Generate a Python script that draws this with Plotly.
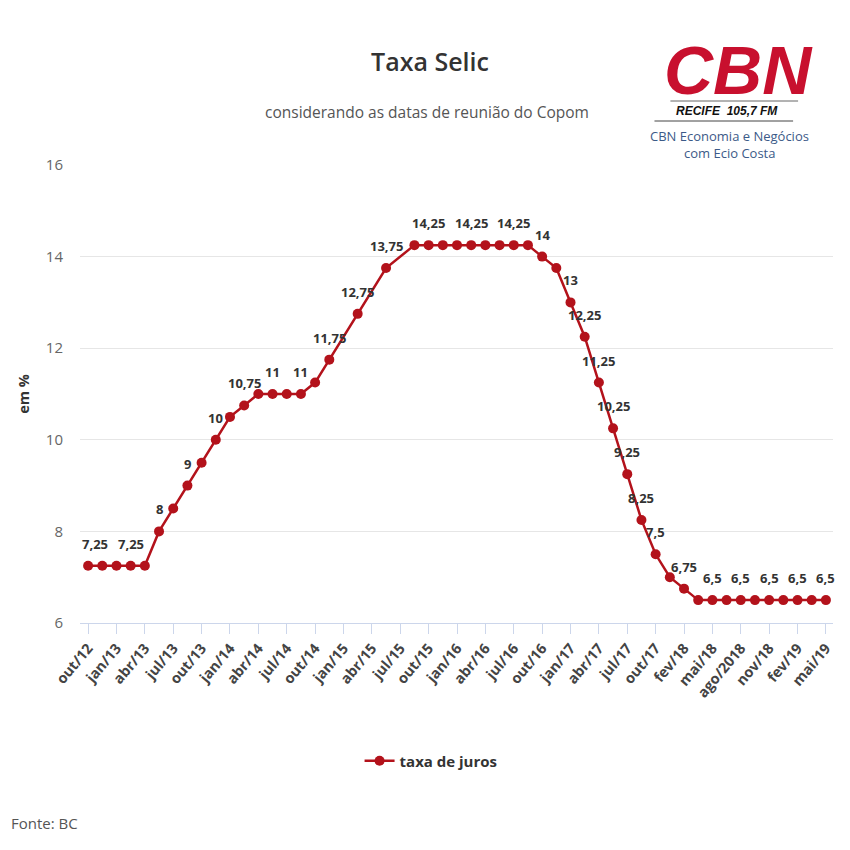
import plotly.graph_objects as go

# Copom meeting slots (one per category) and the label shown every other slot
meetings = [
    "out/12", "dez/12", "jan/13", "mar/13", "abr/13", "mai/13", "jul/13", "ago/13",
    "out/13", "nov/13", "jan/14", "fev/14", "abr/14", "mai/14", "jul/14", "set/14",
    "out/14", "dez/14", "jan/15", "mar/15", "abr/15", "jun/15", "jul/15", "set/15",
    "out/15", "nov/15", "jan/16", "mar/16", "abr/16", "jun/16", "jul/16", "ago/16",
    "out/16", "nov/16", "jan/17", "fev/17", "abr/17", "mai/17", "jul/17", "set/17",
    "out/17", "dez/17", "fev/18", "mar/18", "mai/18", "jun/18", "ago/2018", "set/18",
    "nov/18", "dez/18", "fev/19", "mar/19", "mai/19",
]
tick_labels = [
    "out/12", "jan/13", "abr/13", "jul/13", "out/13", "jan/14", "abr/14", "jul/14",
    "out/14", "jan/15", "abr/15", "jul/15", "out/15", "jan/16", "abr/16", "jul/16",
    "out/16", "jan/17", "abr/17", "jul/17", "out/17", "fev/18", "mai/18", "ago/2018",
    "nov/18", "fev/19", "mai/19",
]
selic = [
    7.25, 7.25, 7.25, 7.25, 7.25, 8, 8.5, 9, 9.5, 10, 10.5, 10.75,
    11, 11, 11, 11, 11.25, 11.75, None, 12.75, None, 13.75, None,
    14.25, 14.25, 14.25, 14.25, 14.25, 14.25, 14.25, 14.25, 14.25,
    14, 13.75, 13, 12.25, 11.25, 10.25, 9.25, 8.25, 7.5, 7, 6.75,
    6.5, 6.5, 6.5, 6.5, 6.5, 6.5, 6.5, 6.5, 6.5, 6.5,
]
# indices of points that carry a visible data label
labelled = [0, 3, 5, 7, 9, 11, 13, 15, 17, 19, 21, 24, 27, 30, 32, 34, 35, 36,
            37, 38, 39, 40, 42, 44, 46, 48, 50, 52]

RED = "#b3121b"
FONT = "Open Sans"

# page body has an 8px margin: the figure starts at screen (8, 8)
OFF = 8
W, H = 834, 834
# plot area in screen pixels
L, R, T, B = 80, 835, 165, 623


def px(x):
    return (x - L) / (R - L)


def py(y):
    return (B - y) / (B - T)


def ann(x, y, text, font, xanchor="center", **kw):
    d = dict(x=px(x), y=py(y), xref="paper", yref="paper", showarrow=False,
             xanchor=xanchor, yanchor="middle", text=text, font=font)
    d.update(kw)
    return d


fig = go.Figure()
fig.add_trace(go.Scatter(
    x=meetings, y=selic, mode="lines+markers", name="taxa de juros",
    connectgaps=True,
    line=dict(color=RED, width=2.5),
    marker=dict(color=RED, size=10),
    cliponaxis=False,
))

annotations = []
for i in labelled:
    v = selic[i]
    annotations.append(dict(
        x=meetings[i], y=v, xref="x", yref="y",
        xanchor="center", yanchor="middle",
        text=f"{v:g}".replace(".", ","), showarrow=False,
        yshift=22, xshift=7 if i == 0 else 0,
        font=dict(family=FONT, size=13, color="#333333", weight="bold"),
    ))

annotations.append(ann(428, 112, "considerando as datas de reunião do Copom",
                       dict(family=FONT, size=15.5, color="#555555")))
annotations.append(ann(9, 823, "Fonte: BC",
                       dict(family=FONT, size=15, color="#555555"), xanchor="left"))
# CBN logo texts
annotations.append(ann(740, 70, "<b><i>CBN</i></b>",
                       dict(family="Liberation Sans", size=68, color="#c8102e"),
                       height=58, valign="middle"))
annotations.append(ann(729, 111, "<b><i>RECIFE  105,7 FM</i></b>",
                       dict(family="Liberation Sans", size=12, color="#111111")))
annotations.append(ann(731, 136, "CBN Economia e Negócios",
                       dict(family=FONT, size=13, color="#3c5a88")))
annotations.append(ann(731, 153, "com Ecio Costa",
                       dict(family=FONT, size=13, color="#3c5a88")))

shapes = [
    dict(type="line", xref="paper", yref="paper", x0=px(672), x1=px(800),
         y0=py(101), y1=py(101), line=dict(color="#666666", width=1)),
    dict(type="line", xref="paper", yref="paper", x0=px(656), x1=px(795),
         y0=py(121), y1=py(121), line=dict(color="#444444", width=1)),
]

fig.update_layout(
    width=W, height=H,
    margin=dict(l=L - OFF, r=W - (R - OFF), t=T - OFF, b=H - (B - OFF)),
    paper_bgcolor="white", plot_bgcolor="white",
    font=dict(family=FONT, color="#333333"),
    title=dict(
        text="Taxa Selic", x=(430 - OFF) / W, xanchor="center",
        y=1 - (62 - OFF) / H, yanchor="middle",
        font=dict(family=FONT, size=25, color="#333333", weight=600),
    ),
    showlegend=True,
    legend=dict(
        orientation="h", x=px(432), xanchor="center", y=py(761), yanchor="middle",
        font=dict(family=FONT, size=15, color="#333333", weight="bold"),
        itemwidth=30,
    ),
    xaxis=dict(
        type="category", categoryorder="array", categoryarray=meetings,
        range=[-0.57, 52.5],
        tickmode="array", tickvals=meetings[::2], ticktext=tick_labels,
        tickangle=-50, ticks="outside", ticklen=10, tickcolor="#ccd6eb",
        showline=True, linecolor="#ccd6eb", linewidth=1,
        showgrid=False, zeroline=False,
        tickfont=dict(family=FONT, size=14.5, color="#444444", weight="bold"),
    ),
    yaxis=dict(
        range=[6, 16], dtick=2, showgrid=True, gridcolor="#e6e6e6",
        zeroline=False, showline=False, ticks="",
        ticklabelstandoff=16,
        tickfont=dict(family=FONT, size=15, color="#666666"),
        title=dict(text="em %", standoff=12,
                   font=dict(family=FONT, size=14.5, color="#333333", weight="bold")),
    ),
    annotations=annotations,
    shapes=shapes,
)

fig.write_html("out.html")
